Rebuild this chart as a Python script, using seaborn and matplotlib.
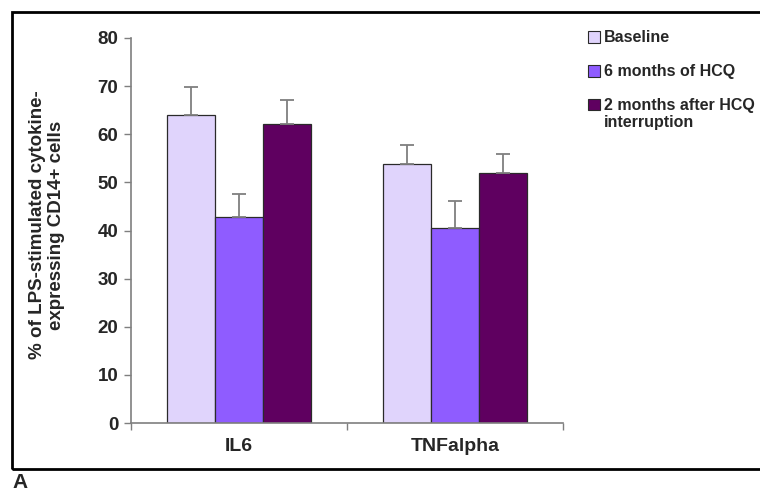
import numpy as np
import pandas as pd
import matplotlib
matplotlib.use("Agg")
import matplotlib.pyplot as plt
import seaborn as sns
from matplotlib.patches import Rectangle, Patch
from matplotlib.legend_handler import HandlerPatch

# data
cytokines = ["IL6", "TNFalpha"]
groups = ["Baseline", "6 months of HCQ", "2 months after HCQ\ninterruption"]
baseline = [64.0, 53.8]
hcq_6m = [42.8, 40.6]
after_2m = [62.1, 52.0]
err_baseline = [5.8, 3.9]
err_hcq_6m = [4.8, 5.5]
err_after_2m = [5.1, 3.8]

colors = ["#E0D4FC", "#8F5CFF", "#5F0060"]

df = pd.DataFrame({
    "cytokine": cytokines * 3,
    "group": [g for g in groups for _ in cytokines],
    "value": baseline + hcq_6m + after_2m,
    "err": err_baseline + err_hcq_6m + err_after_2m,
})

sns.set_style("white")
plt.rcParams["font.family"] = ["Liberation Sans", "DejaVu Sans"]

fig = plt.figure(figsize=(7.6, 4.93), dpi=100)
ax = fig.add_axes([131/760, 70/493, (563-131)/760, (423-38)/493])

sns.barplot(data=df, x="cytokine", y="value", hue="group", hue_order=groups,
            palette=colors, saturation=1, width=0.667, gap=0,
            edgecolor="#2a2a2a", linewidth=0.9,
            errorbar=None, legend=False, ax=ax)

# upward-only error bars
bars = ax.patches
for i, g in enumerate(groups):
    sub = df[df["group"] == g]
    for j, (v, e) in enumerate(zip(sub["value"], sub["err"])):
        p = bars[i * len(cytokines) + j]
        xc = p.get_x() + p.get_width() / 2
        ax.errorbar(xc, v, yerr=[[0], [e]], fmt="none", ecolor="#7f7f7f",
                    elinewidth=1.3, capsize=5, capthick=1.3, zorder=1)

ax.set_ylim(0, 80)
ax.set_xlim(-0.5, 1.5)
ax.set_yticks(range(0, 81, 10))
ax.tick_params(axis="y", labelsize=13.5, length=5, width=1, color="#7f7f7f",
               direction="out", left=True, pad=4)
for t in ax.get_yticklabels():
    t.set_fontweight("bold")

ax.set_xticks([-0.5, 0.5, 1.5])
ax.set_xticklabels([])
ax.tick_params(axis="x", which="major", length=5, width=1, color="#7f7f7f",
               direction="out", bottom=True)
ax.set_xticks([0, 1], minor=True)
ax.set_xticklabels(cytokines, minor=True, fontsize=14, fontweight="bold")
ax.tick_params(axis="x", which="minor", length=0, pad=11)

for s in ["top", "right"]:
    ax.spines[s].set_visible(False)
for s in ["left", "bottom"]:
    ax.spines[s].set_color("#7f7f7f")
    ax.spines[s].set_linewidth(1.2)

ax.set_xlabel("")
ax.set_ylabel("% of LPS-stimulated cytokine-\nexpressing CD14+ cells", fontsize=13.5,
              fontweight="bold", linespacing=1.15)
ax.yaxis.set_label_coords(-0.153, 0.514)


def top_aligned(legend, orig_handle, xdescent, ydescent, width, height, fontsize):
    # put the square next to the first line of a two-line label
    shift = 0.6 * fontsize if "\n" in orig_handle.get_label() else 0
    return Rectangle((-xdescent, -ydescent + shift), width, height)


handles = [Patch(facecolor=c, edgecolor="#2a2a2a", linewidth=0.8, label=g)
           for c, g in zip(colors, groups)]
leg = fig.legend(handles, groups, loc="upper left",
                 bbox_to_anchor=(582/760, 1 - 24/493),
                 frameon=False, prop={"weight": "bold", "size": 11.5},
                 handlelength=0.75, handleheight=0.75, handletextpad=0.2,
                 labelspacing=1.18, borderaxespad=0,
                 handler_map={Patch: HandlerPatch(patch_func=top_aligned)})
leg.get_texts()[2].set_linespacing(1.12)

# outer frame and panel letter
fig.patches.append(Rectangle((12/760, 1 - 469/493), 760/760, (469-12)/493,
                             transform=fig.transFigure, fill=False,
                             edgecolor="black", linewidth=2, zorder=0))
fig.text(12/760, 1 - 492/493, "A", fontsize=15, fontweight="bold", ha="left", va="bottom")

fig.savefig("out.png", dpi=100)
